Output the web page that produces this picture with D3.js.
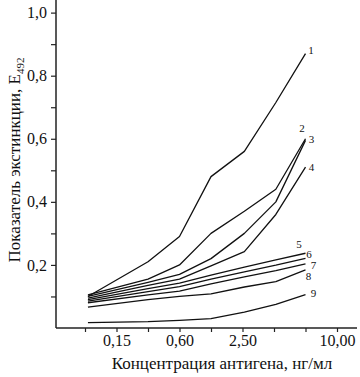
<!DOCTYPE html>
<html>
<head>
<meta charset="utf-8">
<script src="https://cdn.jsdelivr.net/npm/d3@7"></script>
<style>
  body { margin: 0; background: #fff; }
  svg { display: block; }
  .axis-line { stroke: #222; stroke-width: 1.5; }
  .tick-label { font-family: "Liberation Serif", serif; font-size: 16px; fill: #111; }
  .axis-title { font-family: "Liberation Serif", serif; font-size: 17px; fill: #111; }
  .curve { fill: none; stroke: #111; stroke-width: 1.3; stroke-linejoin: round; }
  .curve-label { font-family: "Liberation Serif", serif; font-size: 11px; fill: #111; }
</style>
</head>
<body>
<div id="chart"></div>
<script>
// concentrations (ng/ml) of the points
var conc = [0.08, 0.3, 0.6, 1.2, 2.5, 5, 9.6]

// extinction E492 for each curve
var curve1 = [0.10, 0.21, 0.29, 0.48, 0.56, 0.715, 0.87]
var curve2 = [0.105, 0.155, 0.20, 0.30, 0.37, 0.44, 0.60]
var curve3 = [0.10, 0.145, 0.17, 0.22, 0.30, 0.40, 0.595]
var curve4 = [0.095, 0.135, 0.155, 0.197, 0.242, 0.36, 0.51]
var curve5 = [0.09, 0.125, 0.142, 0.168, 0.193, 0.216, 0.237]
var curve6 = [0.085, 0.115, 0.131, 0.155, 0.178, 0.199, 0.221]
var curve7 = [0.08, 0.105, 0.117, 0.14, 0.162, 0.182, 0.203]
var curve8 = [0.066, 0.09, 0.10, 0.108, 0.13, 0.147, 0.184]
var curve9 = [0.017, 0.02, 0.024, 0.03, 0.05, 0.075, 0.106]

var curveNames = ["1", "2", "3", "4", "5", "6", "7", "8", "9"]
var curves = [curve1, curve2, curve3, curve4, curve5, curve6, curve7, curve8, curve9]

// axis ticks
var xTickValues = [0.075, 0.15, 0.3, 0.6, 1.2, 2.4, 4.8, 9.6, 19.2]
var xTickLabels = ["", "0,15", "", "0,60", "", "2,50", "", "", "10,00"]
var yTickValues = [0.1, 0.2, 0.3, 0.4, 0.5, 0.6, 0.7, 0.8, 0.9, 1.0]
var yTickLabels = ["", "0,2", "", "0,4", "", "0,6", "", "0,8", "", "1,0"]

var width = 360, height = 377
var left = 56, right = 357, bottom = 328

var svg = d3.select("#chart")
    .append("svg")
        .attr("width", width)
        .attr("height", height)

var x = d3.scaleLog().base(2)
    .domain([0.075, 19.2])
    .range([85, 337])

var y = d3.scaleLinear()
    .domain([0, 1.04])
    .range([bottom, 0])

// label nudges next to the end of each curve (dx, dy)
var labelOffset = [[5.5, -2], [-3.5, -9], [6, 0], [6, 1], [-6.5, -8], [3.5, -3], [8, 2], [3, 7.5], [8, 0]]

var line = d3.line()
    .x(function(d, i){ return x(conc[i]) })
    .y(d => y(d))

svg.selectAll(".curve")
    .data(curves)
    .enter()
    .append("path")
    .attr("class", "curve")
    .attr("d", d => line(d))

svg.selectAll(".curve-label")
    .data(curves)
    .enter()
    .append("text")
    .attr("class", "curve-label")
    .attr("x", (d, i) => x(conc[conc.length - 1]) + labelOffset[i][0])
    .attr("y", (d, i) => y(d[d.length - 1]) + labelOffset[i][1])
    .attr("text-anchor", "middle")
    .attr("dominant-baseline", "middle")
    .text((d, i) => curveNames[i])

// x axis
var xAxis = d3.axisBottom(x)
    .tickValues(xTickValues)
    .tickSize(4)
    .tickFormat((d, i) => xTickLabels[i])

var xg = svg.append("g")
    .attr("transform", "translate(0," + bottom + ")")
    .call(xAxis)
xg.select(".domain").remove()
xg.selectAll(".tick line").attr("stroke", "#222").attr("stroke-width", 1.2)
xg.selectAll(".tick text")
    .attr("class", "tick-label")
    .attr("font-family", null).attr("font-size", null)
    .attr("y", 7)

// y axis
var yAxis = d3.axisLeft(y)
    .tickValues(yTickValues)
    .tickSize(5)
    .tickFormat((d, i) => yTickLabels[i])

var yg = svg.append("g")
    .attr("transform", "translate(" + left + ",0)")
    .call(yAxis)
yg.select(".domain").remove()
yg.selectAll(".tick line").attr("stroke", "#222").attr("stroke-width", 1.2)
yg.selectAll(".tick text")
    .attr("class", "tick-label")
    .attr("font-family", null).attr("font-size", null)
    .attr("x", -9)

svg.append("line")
    .attr("class", "axis-line")
    .attr("x1", left).attr("x2", left)
    .attr("y1", 0).attr("y2", bottom)

svg.append("line")
    .attr("class", "axis-line")
    .attr("x1", left).attr("x2", right)
    .attr("y1", bottom).attr("y2", bottom)

// titles
svg.append("text")
    .attr("class", "axis-title")
    .attr("x", 222)
    .attr("y", 369)
    .attr("text-anchor", "middle")
    .text("Концентрация антигена, нг/мл")

var yTitle = svg.append("text")
    .attr("class", "axis-title")
    .attr("transform", "translate(20,160) rotate(-90)")
    .attr("text-anchor", "middle")
yTitle.append("tspan").text("Показатель экстинкции, E")
yTitle.append("tspan")
    .attr("font-size", "11px")
    .attr("dy", 4)
    .text("492")
</script>
</body>
</html>
